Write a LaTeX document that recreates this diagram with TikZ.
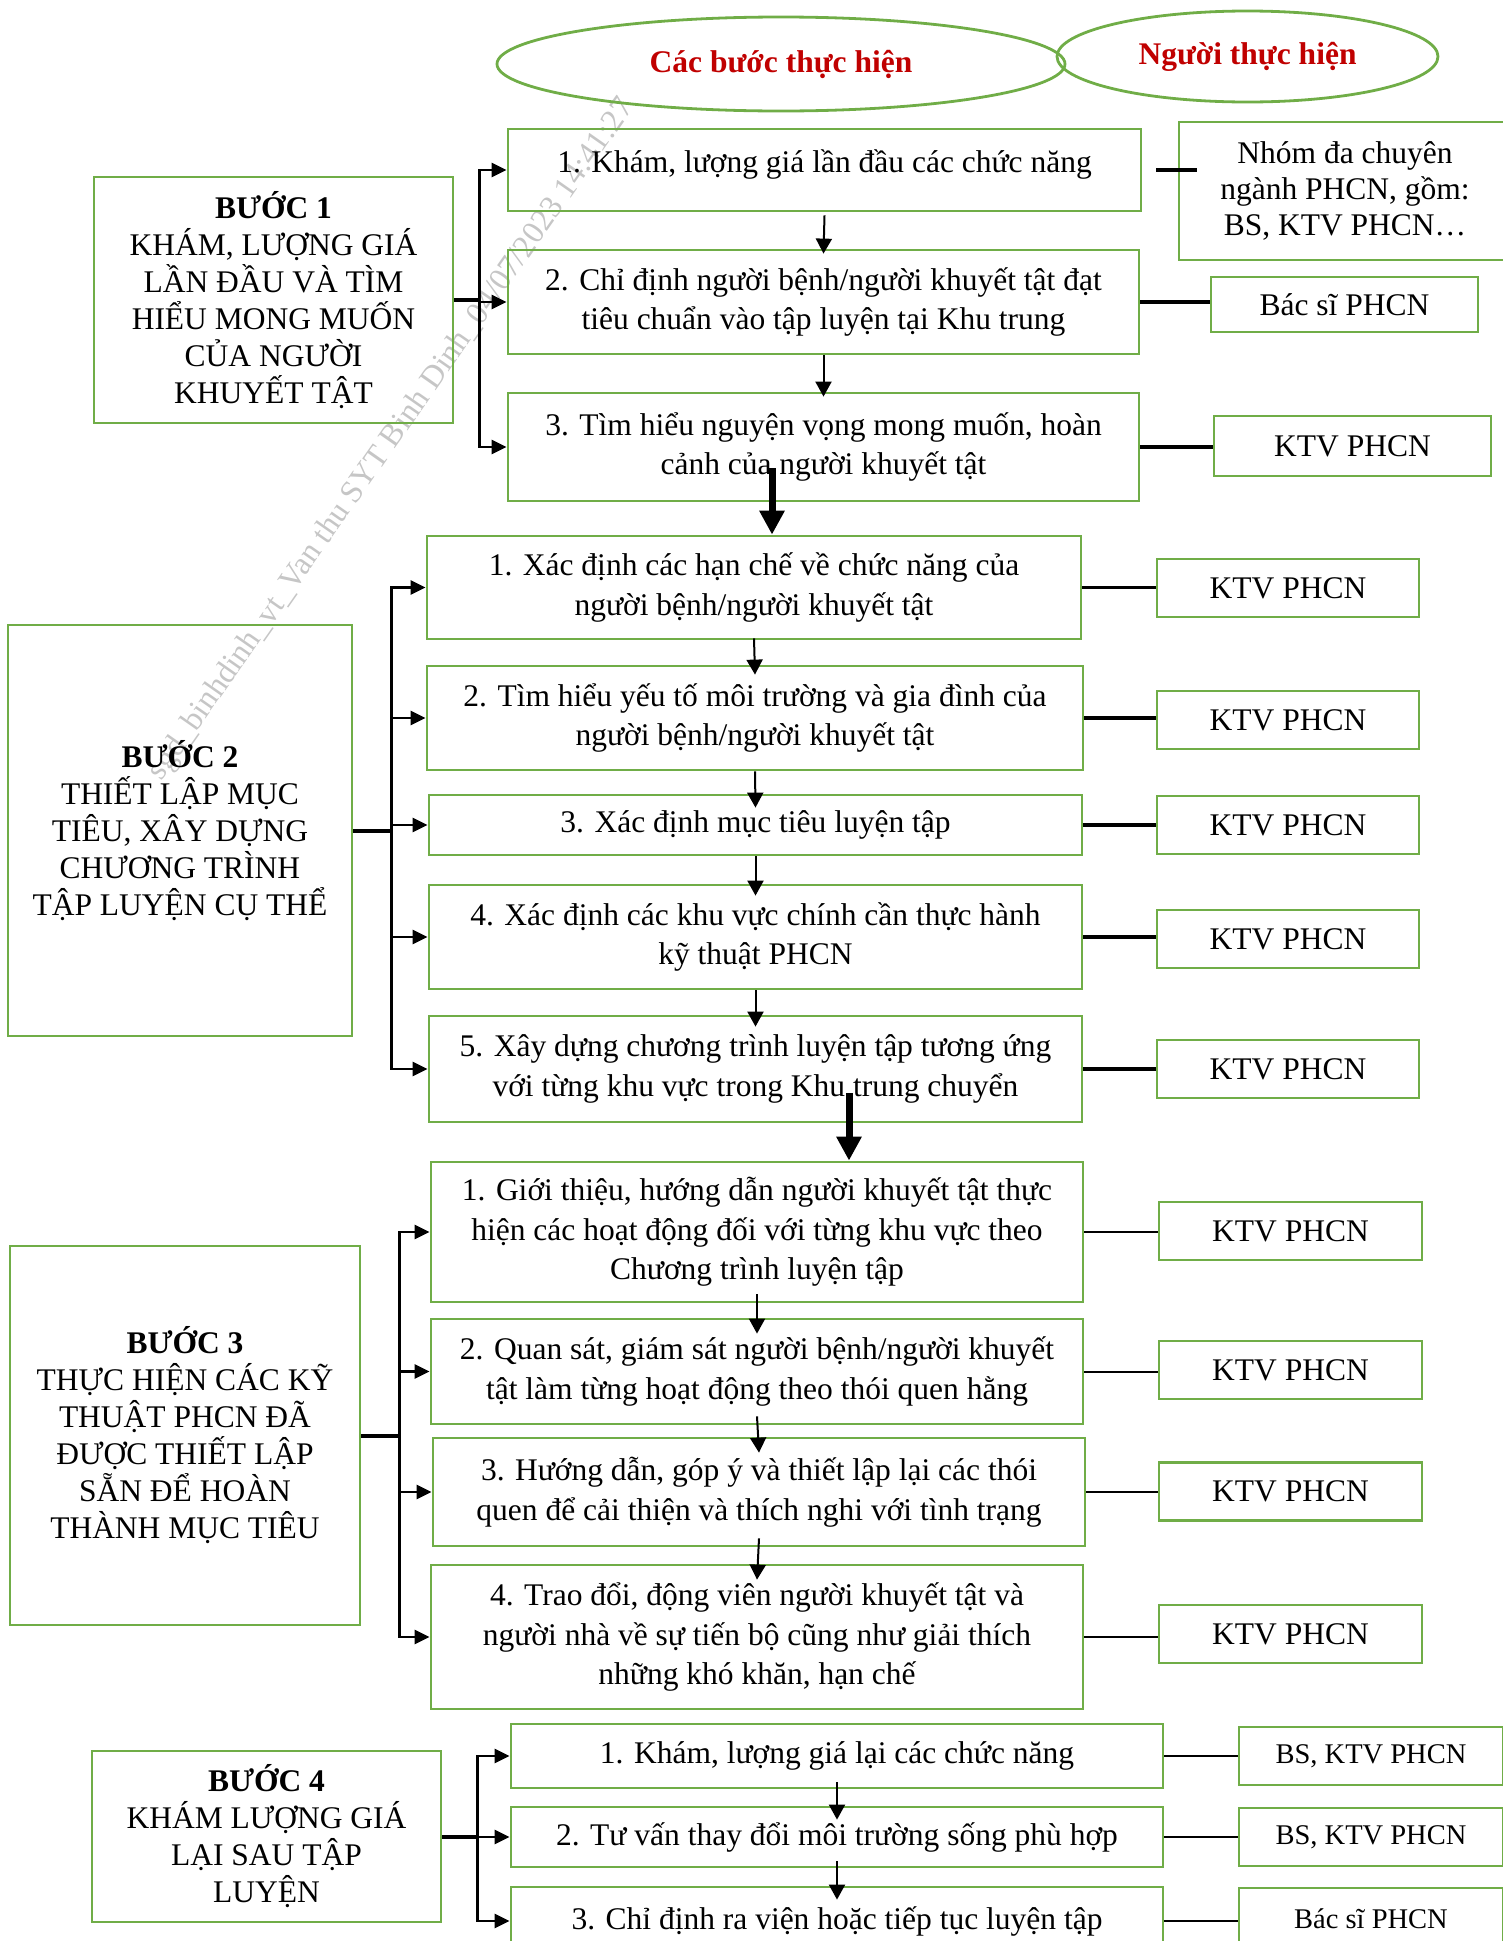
\documentclass[tikz,border=0pt]{standalone}
\usepackage{fontspec}
\setmainfont{Liberation Serif}
\usepackage{tikz}
\usetikzlibrary{shapes.geometric}
\usetikzlibrary{arrows.meta}
\definecolor{boxgreen}{RGB}{112,173,71}
\definecolor{titlered}{RGB}{192,0,0}
\newcommand{\taskfont}{\fontsize{31.5}{39.5}\selectfont}
\newcommand{\stepfont}{\fontsize{31.5}{37}\selectfont}
\newcommand{\stafffont}{\fontsize{31.5}{36}\selectfont}
\newcommand{\smallstafffont}{\fontsize{28.5}{34}\selectfont}

\begin{document}
\begin{tikzpicture}[
    x=1pt, y=-1pt,
    headoval/.style={ellipse, draw=boxgreen, line width=2.8pt, inner sep=0pt,
        text=titlered, font=\taskfont\bfseries},
    stepbox/.style={draw=boxgreen, line width=2.8pt, align=center, inner sep=0pt, font=\stepfont},
    taskbox/.style={draw=boxgreen, line width=2.8pt, align=center, inner sep=0pt, font=\taskfont},
    staffbox/.style={draw=boxgreen, line width=2.8pt, align=center, inner sep=0pt, font=\stafffont},
    trunk/.style={line width=4pt},
    branch/.style={-{Triangle[length=15pt,width=14pt]}, line width=2.8pt},
    nextarrow/.style={-{Triangle[length=15pt,width=16pt]}, line width=2pt},
    jump/.style={-{Triangle[length=24pt,width=24pt]}, line width=7pt},
    staffline/.style={line width=3.5pt},
    thinstaffline/.style={line width=2pt},
    watermark/.style={rotate=55, text=gray!45, font=\fontsize{32}{32}\selectfont}
]
\useasboundingbox (0,0) rectangle (1503,1941);
\node[watermark] (wm) at (392,440) {sgd\_binhdinh\_vt\_Van thu SYT Binh Dinh\_04/07/2023 14:41:27};

% headings
\node[headoval, minimum width=568, minimum height=94] (hsteps) at (781,64) {Các bước thực hiện};
\node[headoval, minimum width=381, minimum height=91] (hstaff) at (1247.5,56.5) {Người thực hiện};

% step 1
\node[stepbox, minimum width=359, minimum height=246] (step1) at (273.5,300)
    {\textbf{BƯỚC 1}\\KHÁM, LƯỢNG GIÁ\\LẦN ĐẦU VÀ TÌM\\HIỂU MONG MUỐN\\CỦA NGƯỜI\\KHUYẾT TẬT};
\node[taskbox, text depth=18pt, minimum width=633, minimum height=82] (s11) at (824.5,170)
    {1. Khám, lượng giá lần đầu các chức năng};
\node[taskbox, minimum width=631, minimum height=104] (s12) at (823.5,302)
    {2. Chỉ định người bệnh/người khuyết tật đạt\\tiêu chuẩn vào tập luyện tại Khu trung};
\node[taskbox, minimum width=631, minimum height=108] (s13) at (823.5,447)
    {3. Tìm hiểu nguyện vọng mong muốn, hoàn\\cảnh của người khuyết tật};
\node[staffbox, minimum width=332, minimum height=138] (nhom) at (1345,191)
    {Nhóm đa chuyên\\ngành PHCN, gồm:\\BS, KTV PHCN…};
\node[staffbox, minimum width=267, minimum height=55] (bs12) at (1344.5,304.5) {Bác sĩ PHCN};
\node[staffbox, minimum width=277, minimum height=60] (ktv13) at (1352.5,446) {KTV PHCN};

% step 2
\node[stepbox, minimum width=344, minimum height=411] (step2) at (180,830.5)
    {\textbf{BƯỚC 2}\\THIẾT LẬP MỤC\\TIÊU, XÂY DỰNG\\CHƯƠNG TRÌNH\\TẬP LUYỆN CỤ THỂ};
\node[taskbox, minimum width=654, minimum height=103] (s21) at (754,587.5)
    {1. Xác định các hạn chế về chức năng của\\người bệnh/người khuyết tật};
\node[taskbox, minimum width=656, minimum height=104] (s22) at (755,718)
    {2. Tìm hiểu yếu tố môi trường và gia đình của\\người bệnh/người khuyết tật};
\node[taskbox, minimum width=653, minimum height=60] (s23) at (755.5,825)
    {3. Xác định mục tiêu luyện tập};
\node[taskbox, minimum width=653, minimum height=104] (s24) at (755.5,937)
    {4. Xác định các khu vực chính cần thực hành\\kỹ thuật PHCN};
\node[taskbox, minimum width=653, minimum height=106] (s25) at (755.5,1069)
    {5. Xây dựng chương trình luyện tập tương ứng\\với từng khu vực trong Khu trung chuyển};
\node[staffbox, minimum width=262, minimum height=58] (ktv21) at (1288,588) {KTV PHCN};
\node[staffbox, minimum width=262, minimum height=58] (ktv22) at (1288,720) {KTV PHCN};
\node[staffbox, minimum width=262, minimum height=58] (ktv23) at (1288,825) {KTV PHCN};
\node[staffbox, minimum width=262, minimum height=58] (ktv24) at (1288,939) {KTV PHCN};
\node[staffbox, minimum width=262, minimum height=58] (ktv25) at (1288,1069) {KTV PHCN};

% step 3
\node[stepbox, minimum width=350, minimum height=379] (step3) at (185,1435.5)
    {\textbf{BƯỚC 3}\\THỰC HIỆN CÁC KỸ\\THUẬT PHCN ĐÃ\\ĐƯỢC THIẾT LẬP\\SẴN ĐỂ HOÀN\\THÀNH MỤC TIÊU};
\node[taskbox, minimum width=652, minimum height=140] (s31) at (757,1232)
    {1. Giới thiệu, hướng dẫn người khuyết tật thực\\hiện các hoạt động đối với từng khu vực theo\\Chương trình luyện tập};
\node[taskbox, minimum width=652, minimum height=105] (s32) at (757,1371.5)
    {2. Quan sát, giám sát người bệnh/người khuyết\\tật làm từng hoạt động theo thói quen hằng};
\node[taskbox, minimum width=652, minimum height=108] (s33) at (759,1492)
    {3. Hướng dẫn, góp ý và thiết lập lại các thói\\quen để cải thiện và thích nghi với tình trạng};
\node[taskbox, minimum width=652, minimum height=144] (s34) at (757,1637)
    {4. Trao đổi, động viên người khuyết tật và\\người nhà về sự tiến bộ cũng như giải thích\\những khó khăn, hạn chế};
\node[staffbox, minimum width=263, minimum height=58] (ktv31) at (1290.5,1231) {KTV PHCN};
\node[staffbox, minimum width=263, minimum height=58] (ktv32) at (1290.5,1370) {KTV PHCN};
\node[staffbox, minimum width=263, minimum height=58] (ktv33) at (1290.5,1491.5) {KTV PHCN};
\node[staffbox, minimum width=263, minimum height=58] (ktv34) at (1290.5,1634) {KTV PHCN};

% step 4
\node[stepbox, minimum width=349, minimum height=171] (step4) at (266.5,1836.5)
    {\textbf{BƯỚC 4}\\KHÁM LƯỢNG GIÁ\\LẠI SAU TẬP\\LUYỆN};
\node[taskbox, minimum width=652, minimum height=64] (s41) at (837,1756)
    {1. Khám, lượng giá lại các chức năng};
\node[taskbox, minimum width=652, minimum height=60] (s42) at (837,1837)
    {2. Tư vấn thay đổi môi trường sống phù hợp};
\node[taskbox, minimum width=652, minimum height=68] (s43) at (837,1921)
    {3. Chỉ định ra viện hoặc tiếp tục luyện tập};
\node[staffbox, font=\smallstafffont, minimum width=264, minimum height=58] (r41) at (1371,1756) {BS, KTV PHCN};
\node[staffbox, font=\smallstafffont, minimum width=264, minimum height=58] (r42) at (1371,1837) {BS, KTV PHCN};
\node[staffbox, font=\smallstafffont, minimum width=264, minimum height=62] (r43) at (1371,1919) {Bác sĩ PHCN};

% forks from the steps
\coordinate (fork1) at ([xshift=25pt]step1.east);
\coordinate (fork2) at ([xshift=38pt]step2.east);
\coordinate (fork3) at ([xshift=38pt]step3.east);
\coordinate (fork4) at ([xshift=35pt]step4.east);
\draw[trunk] (step1.east) -- (fork1);
\draw[trunk] (step2.east) -- (fork2);
\draw[trunk] (step3.east) -- (fork3);
\draw[trunk] (step4.east) -- (fork4);
\draw[branch] (fork1) |- (s11.west);
\draw[branch] (fork1) |- (s12.west);
\draw[branch] (fork1) |- (s13.west);
\draw[branch] (fork2) |- (s21.west);
\draw[branch] (fork2) |- (s22.west);
\draw[branch] (fork2) |- (s23.west);
\draw[branch] (fork2) |- (s24.west);
\draw[branch] (fork2) |- (s25.west);
\draw[branch] (fork3) |- (s31.west);
\draw[branch] (fork3) |- (s32.west);
\draw[branch] (fork3) |- (s33.west);
\draw[branch] (fork3) |- (s34.west);
\draw[branch] (fork4) |- (s41.west);
\draw[branch] (fork4) |- (s42.west);
\draw[branch] (fork4) |- (s43.west);

% order inside each step
\draw[nextarrow] ([yshift=-3pt]s11.south) -- ([yshift=-5pt]s12.north);
\draw[nextarrow] (s12.south) -- ([yshift=-5pt]s13.north);
\draw[nextarrow] ([yshift=2pt]s21.south) -- ([yshift=-10pt]s22.north);
\draw[nextarrow] (s22.south) -- ([yshift=-14pt]s23.north);
\draw[nextarrow] (s23.south) -- ([yshift=-12pt]s24.north);
\draw[nextarrow] (s24.south) -- ([yshift=-12pt]s25.north);
\draw[nextarrow] ([yshift=9pt]s31.south) -- ([yshift=-16pt]s32.north);
\draw[nextarrow] ([yshift=9pt]s32.south) -- ([yshift=-16pt]s33.north);
\draw[nextarrow] ([yshift=9pt]s33.south) -- ([yshift=-16pt]s34.north);
\draw[nextarrow] ([yshift=7pt]s41.south) -- ([yshift=-14pt]s42.north);
\draw[nextarrow] ([yshift=7pt]s42.south) -- ([yshift=-14pt]s43.north);

% from one step to the next
\coordinate (jump1) at (772,468);
\coordinate (jump2) at (849,1093);
\draw[jump] (jump1) -- (jump1 |- s21.north);
\draw[jump] (jump2) -- (jump2 |- s31.north);

% who does it
\draw[staffline] ([xshift=14pt]s11.east) -- ([xshift=19pt]s11.east -| nhom.west);
\draw[staffline] (s12.east) -- (s12.east -| bs12.west);
\draw[staffline] (s13.east) -- (s13.east -| ktv13.west);
\draw[staffline] (s21.east) -- (s21.east -| ktv21.west);
\draw[staffline] (s22.east) -- (s22.east -| ktv22.west);
\draw[staffline] (s23.east) -- (s23.east -| ktv23.west);
\draw[staffline] (s24.east) -- (s24.east -| ktv24.west);
\draw[staffline] (s25.east) -- (s25.east -| ktv25.west);
\draw[thinstaffline] (s31.east) -- (s31.east -| ktv31.west);
\draw[thinstaffline] (s32.east) -- (s32.east -| ktv32.west);
\draw[thinstaffline] (s33.east) -- (s33.east -| ktv33.west);
\draw[thinstaffline] (s34.east) -- (s34.east -| ktv34.west);
\draw[thinstaffline] (s41.east) -- (s41.east -| r41.west);
\draw[thinstaffline] (s42.east) -- (s42.east -| r42.west);
\draw[thinstaffline] (s43.east) -- (s43.east -| r43.west);
\end{tikzpicture}
\end{document}
